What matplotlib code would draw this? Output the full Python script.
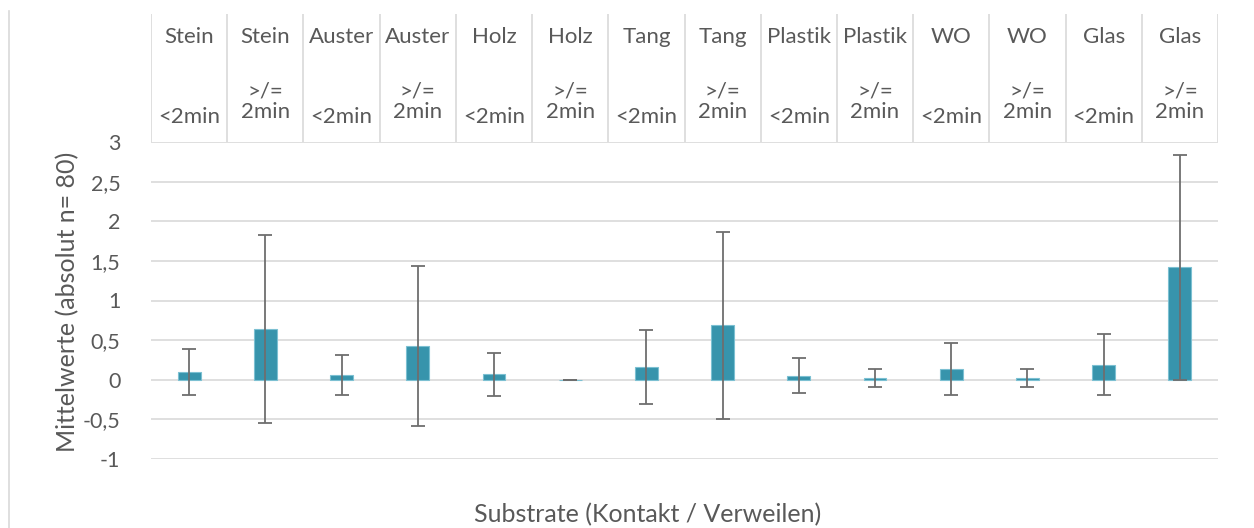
import matplotlib.pyplot as plt
from matplotlib.lines import Line2D

plt.rcParams['font.family'] = ['Lato', 'DejaVu Sans']

substrates = ['Stein', 'Stein', 'Auster', 'Auster', 'Holz', 'Holz', 'Tang', 'Tang',
              'Plastik', 'Plastik', 'WO', 'WO', 'Glas', 'Glas']
durations = ['<2min', '>/=\n2min'] * 7
means = [0.10, 0.64, 0.06, 0.425, 0.07, 0.0, 0.16, 0.69, 0.05, 0.025, 0.14, 0.025, 0.19, 1.42]
sds = [0.29, 1.185, 0.25, 1.005, 0.27, 0.0, 0.47, 1.18, 0.22, 0.115, 0.33, 0.115, 0.385, 1.42]
yticks = [-1, -0.5, 0, 0.5, 1, 1.5, 2, 2.5, 3]

grey_text = '#595959'
grid_col = '#D9D9D9'
bar_col = '#3794AC'

fig = plt.figure(figsize=(12.54, 5.28), dpi=100)
W, H = 1254, 528
left, right = 151 / W, 1218 / W
ax = fig.add_axes([left, 1 - 459 / H, right - left, (459 - 142) / H])

x = list(range(len(means)))
ax.bar(x, means, width=0.3, color=bar_col, edgecolor='#7CC0D2', linewidth=0.8, zorder=2)
ax.errorbar(x, means, yerr=sds, fmt='none', ecolor='#6E6E6E', elinewidth=1.3,
            capsize=5, capthick=1.3, zorder=3)

ax.set_xlim(-0.5, len(means) - 0.5)
ax.set_ylim(-1, 3)
ax.set_yticks(yticks)
ax.set_yticklabels([('%g' % t).replace('.', ',') for t in yticks])
ax.tick_params(axis='y', length=0, pad=22, labelsize=15.5, labelcolor=grey_text)
ax.set_xticks([])
for s in ax.spines.values():
    s.set_visible(False)
ax.yaxis.grid(True, color=grid_col, linewidth=1.2, zorder=0)
ax.set_axisbelow(True)

fig.text(68 / W, 1 - 302 / H, 'Mittelwerte (absolut n= 80)', fontsize=18, color=grey_text,
         ha='center', va='center', rotation=90)
fig.text(648 / W, 1 - 515 / H, 'Substrate (Kontakt / Verweilen)', fontsize=18,
         color=grey_text, ha='center', va='center')

# header table with category labels
hax = fig.add_axes([left, 1 - 142 / H, right - left, (142 - 14) / H])
hax.set_xlim(-0.5, len(means) - 0.5)
hax.set_ylim(0, 1)
hax.axis('off')
for b in range(len(means) + 1):
    hax.plot([b - 0.5, b - 0.5], [0, 1], color=grid_col, linewidth=1.2)
for i in x:
    hax.text(i, 0.82, substrates[i], ha='center', va='center', fontsize=16, color=grey_text)
    if durations[i].startswith('<'):
        hax.text(i, 0.195, durations[i], ha='center', va='center', fontsize=16, color=grey_text)
    else:
        hax.text(i, 0.315, durations[i], ha='center', va='center', fontsize=16,
                 color=grey_text, linespacing=1.05)

fig.add_artist(Line2D([9 / W, 9 / W], [0, 1 - 11 / H], color=grid_col, linewidth=1.2))

fig.savefig('out.png', dpi=100)
